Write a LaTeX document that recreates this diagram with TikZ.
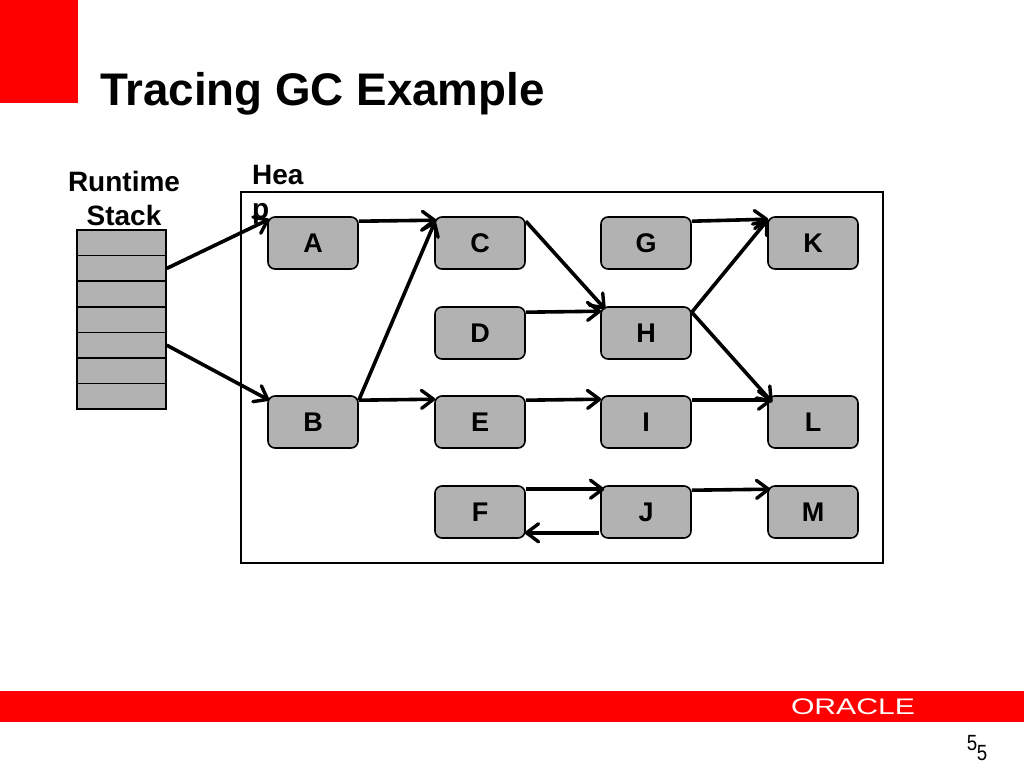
\documentclass[tikz,border=0pt]{standalone}
\usepackage{fontspec}
\setmainfont{Liberation Sans}
\usepackage{xcolor}
\usetikzlibrary{arrows.meta,positioning,calc}
\definecolor{slidered}{RGB}{255,0,0}
\definecolor{boxgray}{RGB}{178,178,178}
\tikzset{
  objbox/.style={draw,fill=boxgray,line width=1.6pt,rounded corners=7pt,minimum width=90pt,minimum height=52pt,inner sep=0pt,font=\fontsize{27}{27}\selectfont\bfseries},
  cellbox/.style={draw,fill=boxgray,line width=1.6pt,minimum width=89pt,minimum height=25.6pt,inner sep=0pt},
  ref/.style={->,line width=3.6pt},
  boldlabel/.style={inner sep=0pt,font=\fontsize{28}{28}\selectfont\bfseries},
  pagenum/.style={inner sep=0pt,xscale=0.85,font=\fontsize{22}{22}\selectfont}
}
\begin{document}
\begin{tikzpicture}[x=1pt,y=-1pt,>={Straight Barb[length=12pt,width=18pt,line width=3.4pt,round]}]
  \useasboundingbox (0,0) rectangle (1024,768);
  \fill[slidered] (0,0) rectangle (78,103);
  \fill[slidered] (0,691) rectangle (1024,722);
  \node[inner sep=0pt,anchor=base west,font=\fontsize{45.7}{46}\selectfont\bfseries] (title) at (100,105) {Tracing GC Example};
  \node[draw,line width=1.6pt,minimum width=642pt,minimum height=371pt,inner sep=0pt] (heap) at (562,377.5) {};
  \node[boldlabel,anchor=base] (runtime) at (124,191) {Runtime};
  \node[boldlabel,anchor=base] (stack) at (124,225) {Stack};
  \node[boldlabel,anchor=base west] (hea) at (252,184) {Hea};
  \node[boldlabel,anchor=base west] (p) at (252,218) {p};
  \foreach \i in {1,...,7} \node[cellbox] (s\i) at (121.5,217.2+25.6*\i) {};
  \foreach \name/\px/\py in {A/313/243,B/313/422,C/480/243,D/480/333,E/480/422,F/480/512,G/646/243,H/646/333,I/646/422,J/646/512,K/813/243,L/813/422,M/813/512}
    \node[objbox] (\name) at (\px,\py) {\name};
  \draw[ref] (s2.east) -- ([xshift=2pt,yshift=-3pt]A.north west);
  \draw[ref] (s5.east) -- ([xshift=2pt,yshift=-5pt]B.north west);
  \draw[ref] ([yshift=-5pt]A.north east) -- ([xshift=2pt,yshift=-4pt]C.north west);
  \draw[ref] ([yshift=-5pt]B.north east) -- ([xshift=1pt,yshift=-5pt]C.north west);
  \draw[ref] ([yshift=-5pt]B.north east) -- ([xshift=1pt,yshift=-4pt]E.north west);
  \draw[ref] ([yshift=-5pt]C.north east) -- ([xshift=5pt,yshift=-3pt]H.north west);
  \draw[ref] ([yshift=-6pt]D.north east) -- ([xshift=1pt,yshift=-5pt]H.north west);
  \draw[ref] ([yshift=-5pt]E.north east) -- ([xshift=1pt,yshift=-4pt]I.north west);
  \draw[ref] ([yshift=-5pt]I.north east) -- ([xshift=5pt,yshift=-5pt]L.north west);
  \draw[ref] ([yshift=-5pt]G.north east) -- ([xshift=1pt,yshift=-3pt]K.north west);
  \draw[ref] ([yshift=-6pt]H.north east) -- ([xshift=1pt,yshift=-3pt]K.north west);
  \draw[ref] ([yshift=-6pt]H.north east) -- ([xshift=5pt,yshift=-7pt]L.north west);
  \draw[ref] ([yshift=-4pt]F.north east) -- ([xshift=4pt,yshift=-4pt]J.north west);
  \draw[ref] ([xshift=-1pt,yshift=6pt]J.south west) -- ([xshift=-1pt,yshift=6pt]F.south east);
  \draw[ref] ([yshift=-5pt]J.north east) -- ([xshift=3pt,yshift=-4pt]M.north west);
  \node[inner sep=0pt,text=white,xscale=1.34,font=\fontsize{22.5}{23}\selectfont] (oracle) at (853,707) {ORACLE};
  \node[pagenum] (num) at (972,743) {5};
  \node[pagenum] (numb) at (982,753) {5};
\end{tikzpicture}
\end{document}
